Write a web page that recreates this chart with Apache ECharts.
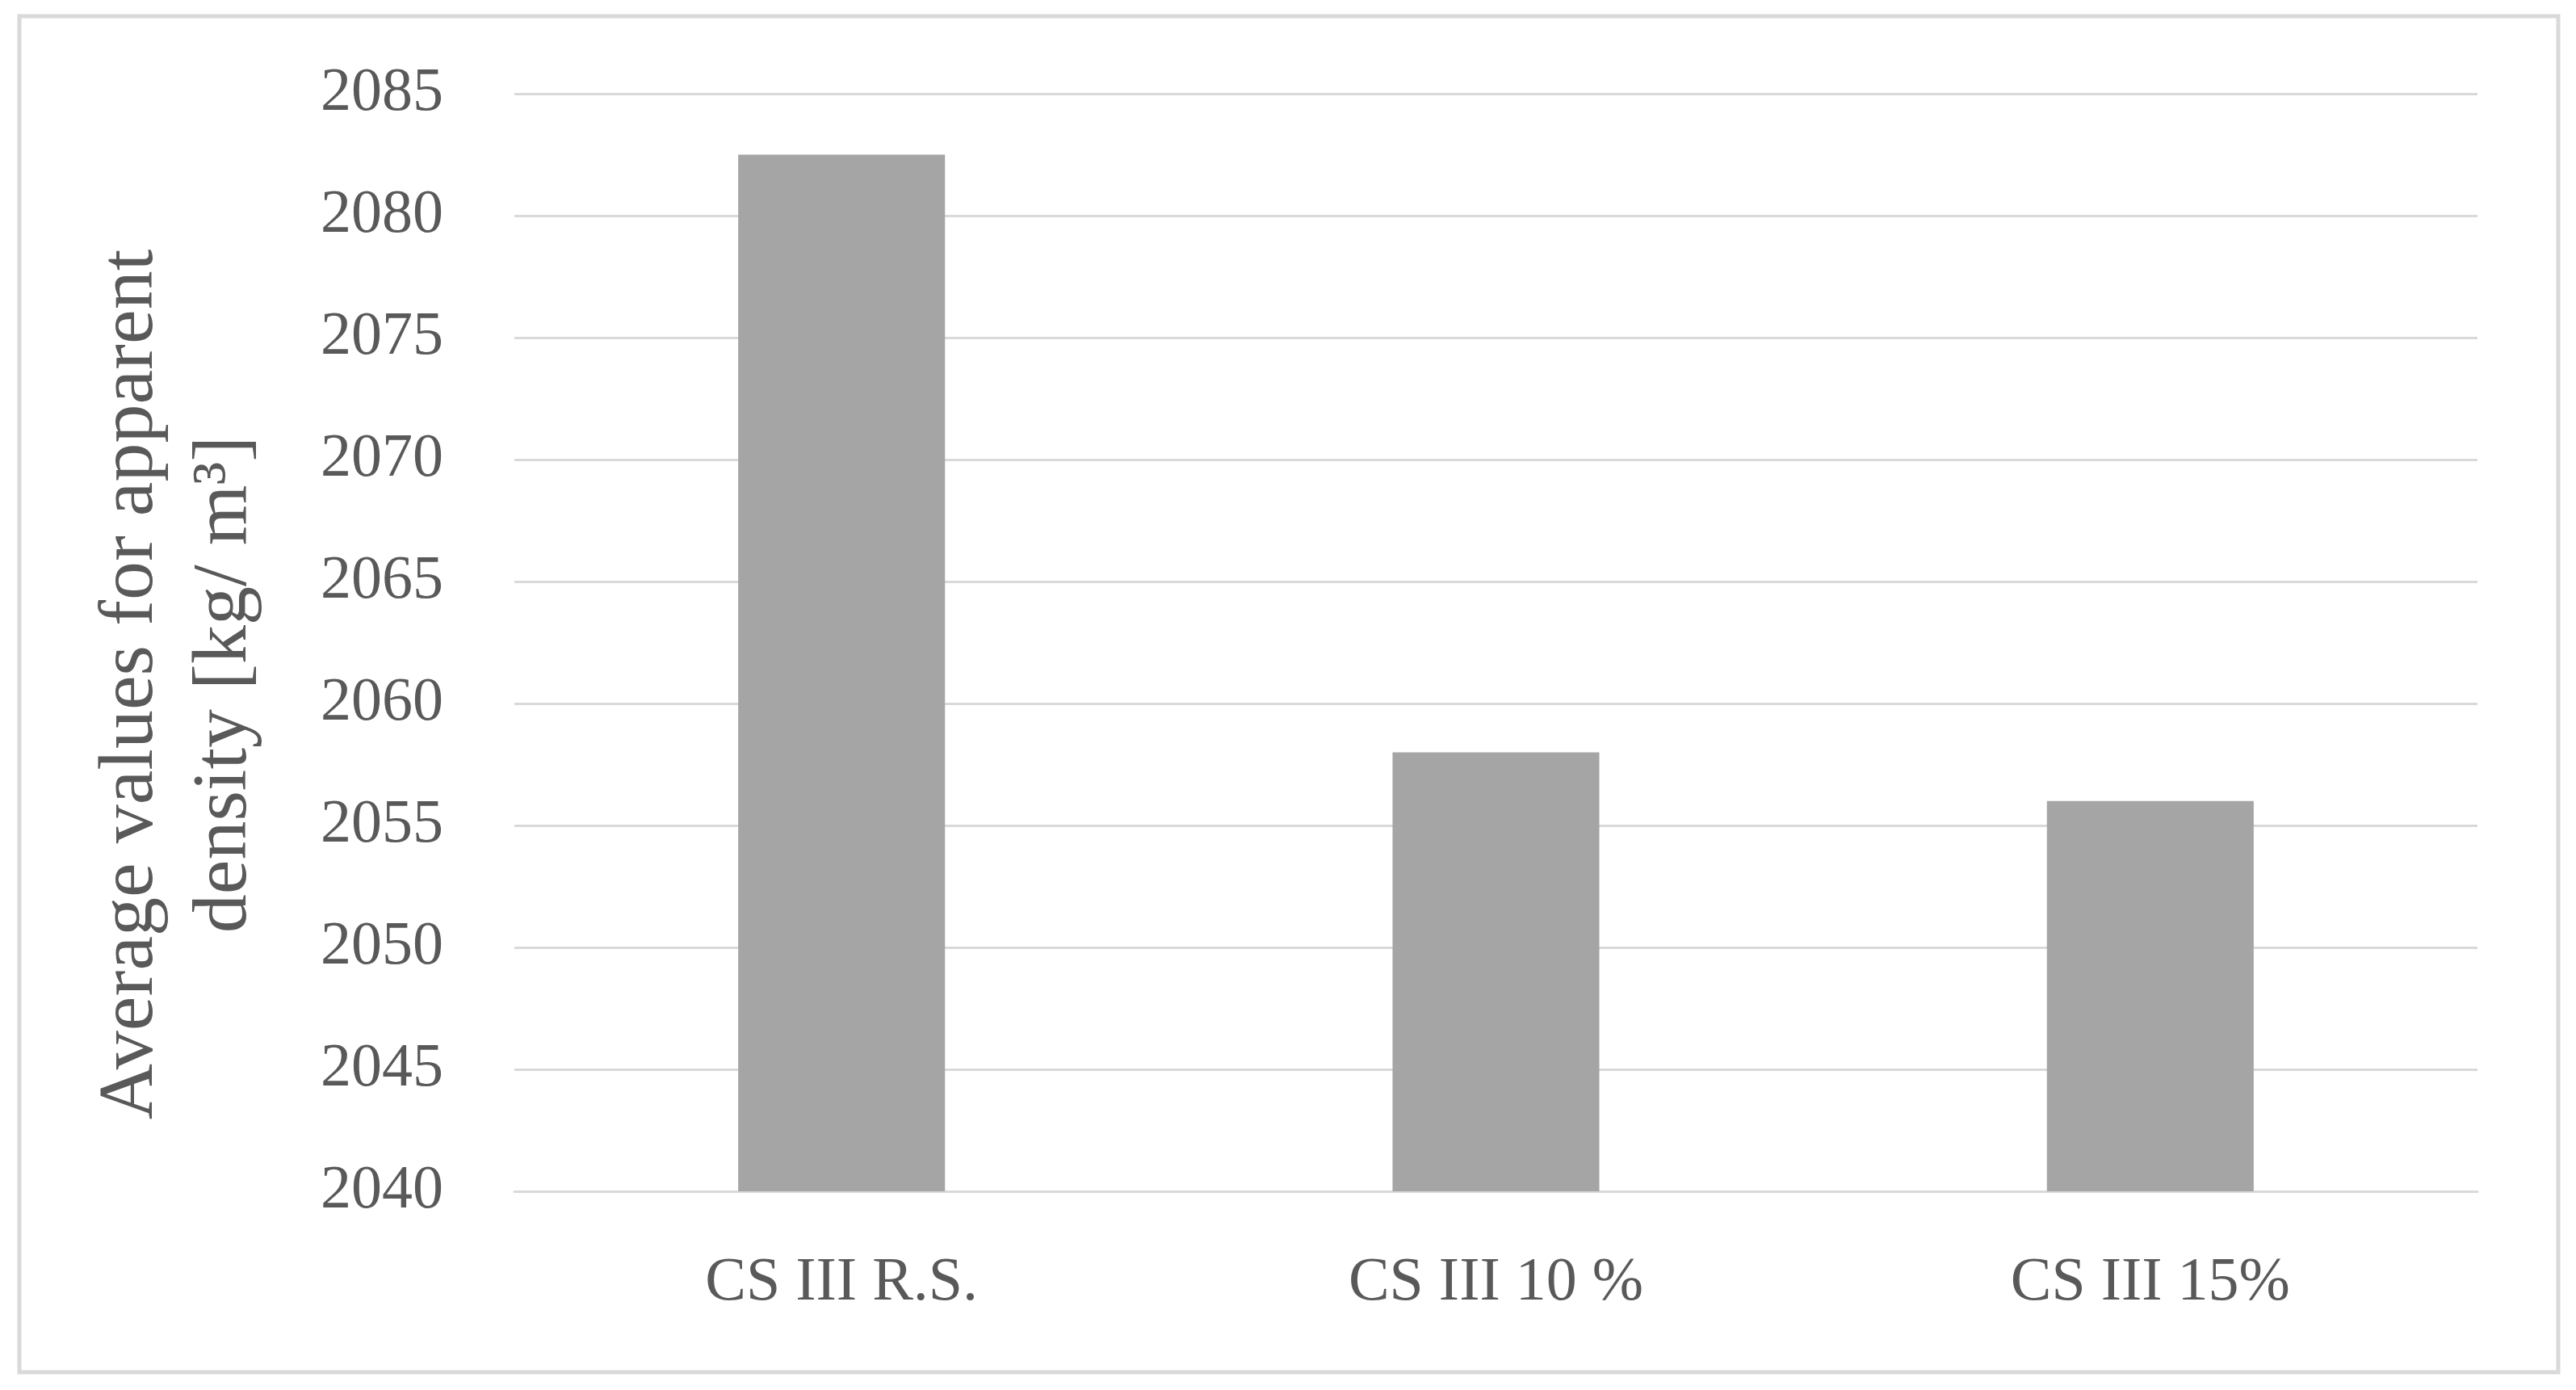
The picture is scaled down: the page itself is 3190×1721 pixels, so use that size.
<!DOCTYPE html>
<html>
<head>
<meta charset="utf-8">
<script src="https://cdn.jsdelivr.net/npm/echarts@6/dist/echarts.min.js"></script>
<style>
  html, body { margin: 0; padding: 0; background: #fff; }
  #chartBar { width: 3190px; height: 1721px; }
</style>
</head>
<body>
<div id="chartBar"></div>
<script>
// categories and averages
const categories = ["CS III R.S.", "CS III 10 %", "CS III 15%"];
const densityValues = [2082.5, 2058, 2056];
const yTicks = [2040, 2045, 2050, 2055, 2060, 2065, 2070, 2075, 2080, 2085];

const serif = "'Liberation Serif', 'DejaVu Serif', serif";
const textColor = "#595959";
const gridColor = "#d9d9d9";

const chartBar = echarts.init(document.getElementById("chartBar"));
const options = {
  animation: false,
  backgroundColor: "#fff",
  graphic: [{
    type: "rect",
    shape: {x: 24, y: 20, width: 3144, height: 1679},
    style: {fill: "none", stroke: gridColor, lineWidth: 5},
    silent: true
  }],
  grid: {
    left: 637,
    right: 122,
    top: 116,
    bottom: 246
  },
  xAxis: {
    type: "category",
    data: categories,
    axisLine: {lineStyle: {color: gridColor, width: 3}},
    axisTick: {show: false},
    axisLabel: {
      margin: 76,
      color: textColor,
      fontFamily: serif,
      fontSize: 76
    }
  },
  yAxis: {
    type: "value",
    min: yTicks[0],
    max: yTicks[yTicks.length - 1],
    interval: 5,
    name: "Average values for apparent\ndensity [kg/ m³]",
    nameLocation: "middle",
    nameGap: 300,
    nameTextStyle: {
      color: textColor,
      fontFamily: serif,
      fontSize: 96,
      lineHeight: 116,
      padding: [0, 104, 0, 0]
    },
    axisLine: {show: false},
    axisTick: {show: false},
    splitLine: {lineStyle: {color: gridColor, width: 3}},
    axisLabel: {
      margin: 88,
      color: textColor,
      fontFamily: serif,
      fontSize: 76,
      formatter: function (v) { return String(v); }
    }
  },
  series: [{
    name: "apparent density",
    type: "bar",
    data: densityValues,
    barWidth: "31.6%",
    itemStyle: {color: "#a5a5a5"}
  }]
};
chartBar.setOption(options, true);
</script>
</body>
</html>
